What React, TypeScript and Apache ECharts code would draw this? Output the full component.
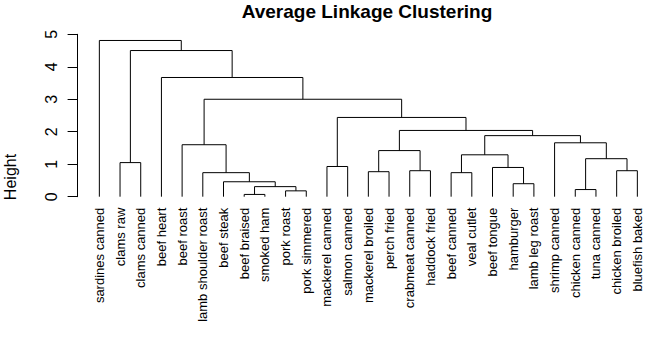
import React, { useEffect, useRef } from "react";
import * as echarts from "echarts";

const leaves = [
  "sardines canned", "clams raw", "clams canned", "beef heart", "beef roast",
  "lamb shoulder roast", "beef steak", "beef braised", "smoked ham", "pork roast",
  "pork simmered", "mackerel canned", "salmon canned", "mackerel broiled", "perch fried",
  "crabmeat canned", "haddock fried", "beef canned", "veal cutlet", "beef tongue",
  "hamburger", "lamb leg roast", "shrimp canned", "chicken canned", "tuna canned",
  "chicken broiled", "bluefish baked",
];

// hclust-style merges: negative = leaf (1-based, in display order), positive = earlier merge (1-based)
const mergeLeft = [-8, -10, -24, 1, -21, -7, -6, -18, -14, -16, -26, -20, -12, -2, 3, 8, 9, -5, -23, 16, 17, 13, 18, -4, 14, -1];
const mergeRight = [-9, -11, -25, 2, -22, 4, 6, -19, -15, -17, -27, 5, -13, -3, 11, 12, 10, 7, 15, 19, 20, 21, 22, 23, 24, 25];
const mergeHeight = [0.07, 0.18, 0.22, 0.31, 0.40, 0.46, 0.74, 0.74, 0.77, 0.80, 0.80, 0.90, 0.93, 1.05, 1.17, 1.29, 1.42, 1.60, 1.66, 1.88, 2.04, 2.44, 3.00, 3.67, 4.50, 4.81];

const yTicks = [0, 1, 2, 3, 4, 5];

const FONT = "'Liberation Sans', Arial, Helvetica, sans-serif";

function buildSegments() {
  const mx: number[] = [];
  const segs: { coords: number[][] }[] = [];
  const pos = (ref: number): [number, number] =>
    ref < 0 ? [-ref, 0] : [mx[ref - 1], mergeHeight[ref - 1]];
  for (let i = 0; i < mergeHeight.length; i++) {
    const [xl, hl] = pos(mergeLeft[i]);
    const [xr, hr] = pos(mergeRight[i]);
    const h = mergeHeight[i];
    mx.push((xl + xr) / 2);
    segs.push({ coords: [[xl, hl], [xl, h], [xr, h], [xr, hr]] });
  }
  return segs;
}

export default function App() {
  const ref = useRef<HTMLDivElement>(null);
  useEffect(() => {
    if (!ref.current) return;
    const chart = echarts.init(ref.current, null, { renderer: "svg" });
    chart.setOption({
      animation: false,
      backgroundColor: "#ffffff",
      textStyle: { fontFamily: FONT },
      grid: { left: 89, right: 6.3, top: 34.3, bottom: 153.3, containLabel: false },
      xAxis: [
        {
          type: "value",
          min: 0.5,
          max: leaves.length + 0.5,
          show: false,
        },
        {
          type: "category",
          data: leaves,
          boundaryGap: true,
          position: "bottom",
          axisLine: { show: false },
          axisTick: { show: false },
          axisLabel: {
            rotate: 90,
            interval: 0,
            margin: 11,
            fontSize: 13,
            color: "#000",
            fontFamily: FONT,
          },
        },
      ],
      yAxis: {
        type: "value",
        min: yTicks[0],
        max: yTicks[yTicks.length - 1],
        interval: 1,
        offset: 11.7,
        splitLine: { show: false },
        axisLine: { show: true, lineStyle: { color: "#000", width: 1 } },
        axisTick: { show: true, inside: false, length: 9.7, lineStyle: { color: "#000", width: 1 } },
        axisLabel: {
          rotate: 90,
          margin: 18,
          fontSize: 16,
          color: "#000",
          fontFamily: FONT,
        },
      },
      graphic: [
        {
          type: "text",
          x: 367,
          y: 11,
          style: {
            text: "Average Linkage Clustering",
            font: `bold 19px ${FONT}`,
            fill: "#000",
            textAlign: "center",
            textVerticalAlign: "middle",
          },
        },
        {
          type: "text",
          x: 10,
          y: 177,
          rotation: Math.PI / 2,
          style: {
            text: "Height",
            font: `16px ${FONT}`,
            fill: "#000",
            textAlign: "center",
            textVerticalAlign: "middle",
          },
        },
      ],
      series: [
        {
          type: "lines",
          coordinateSystem: "cartesian2d",
          xAxisIndex: 0,
          yAxisIndex: 0,
          polyline: true,
          silent: true,
          lineStyle: { color: "#000", width: 1, opacity: 1 },
          data: buildSegments(),
        },
      ],
    });
    return () => chart.dispose();
  }, []);
  return (
    <div
      ref={ref}
      style={{ position: "absolute", left: 0, top: 0, width: 654, height: 350 }}
    />
  );
}
